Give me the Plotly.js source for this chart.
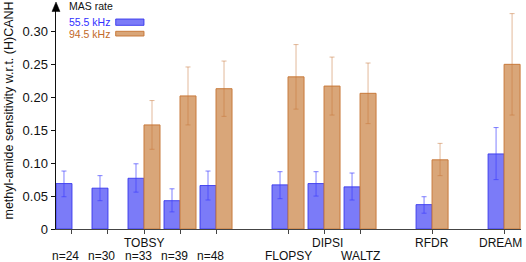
<!DOCTYPE html>
<html>
<head>
<meta charset="utf-8">
<script src="https://cdn.plot.ly/plotly-3.0.1.min.js"></script>
<style>html,body{margin:0;padding:0;background:#fff;}#chart{width:526px;height:262px;}</style>
</head>
<body>
<div id="chart"></div>
<script>
// ---- data ----
var positions = [0, 1, 2, 3, 4, 6, 7, 8, 10, 12];
var labelsRow1 = ['', '', 'TOBSY', '', '', '', 'DIPSI', '', 'RFDR', 'DREAM'];
var labelsRow2 = ['n=24', 'n=30', 'n=33', 'n=39', 'n=48', 'FLOPSY', '', 'WALTZ', '', ''];
var seriesNames = ['55.5 kHz', '94.5 kHz'];
var blue    = [0.069, 0.062, 0.077, 0.043, 0.066, 0.067, 0.069, 0.064, 0.037, 0.114];
var blueHi  = [0.088, 0.081, 0.099, 0.061, 0.088, 0.087, 0.087, 0.085, 0.049, 0.154];
var blueLo  = [0.049, 0.043, 0.056, 0.026, 0.044, 0.046, 0.050, 0.044, 0.024, 0.075];
var orange   = [null, null, 0.158, 0.202, 0.213, 0.231, 0.217, 0.206, 0.105, 0.250];
var orangeHi = [null, null, 0.195, 0.246, 0.255, 0.280, 0.261, 0.252, 0.130, 0.327];
var orangeLo = [null, null, 0.121, 0.158, 0.171, 0.182, 0.173, 0.160, 0.081, 0.173];
var yTickVals = [0, 0.05, 0.10, 0.15, 0.20, 0.25, 0.30];
var yTickText = ['0', '0.05', '0.10', '0.15', '0.20', '0.25', '0.30'];

function plus(v, hi) { return v.map(function (d, i) { return d == null ? null : hi[i] - d; }); }
function minus(v, lo) { return v.map(function (d, i) { return d == null ? null : d - lo[i]; }); }

var BLUE = '#7b7bf8', BLUE_EDGE = 'rgba(50,50,235,0.85)', BLUE_ERR = 'rgba(60,60,255,0.65)';
var ORG = '#d9a679', ORG_EDGE = '#c87a3c', ORG_ERR = 'rgba(200,118,55,0.5)';

var traces = [
  {
    type: 'bar', name: seriesNames[0], x: positions, y: blue,
    marker: {color: BLUE, line: {color: BLUE_EDGE, width: 1}},
    error_y: {type: 'data', symmetric: false, array: plus(blue, blueHi), arrayminus: minus(blue, blueLo),
              color: BLUE_ERR, thickness: 1, width: 2.5},
    showlegend: false, hoverinfo: 'skip'
  },
  {
    type: 'bar', name: seriesNames[1], x: positions, y: orange,
    marker: {color: ORG, line: {color: ORG_EDGE, width: 1}},
    error_y: {type: 'data', symmetric: false, array: plus(orange, orangeHi), arrayminus: minus(orange, orangeLo),
              color: ORG_ERR, thickness: 1, width: 2.5},
    showlegend: false, hoverinfo: 'skip'
  }
];

var FONT = 'Liberation Sans, Arial, Helvetica, sans-serif';
var annotations = [];
var shiftMap = {'DIPSI': 3, 'DREAM': -4};
positions.forEach(function (p, i) {
  if (labelsRow1[i]) {
    annotations.push({xref: 'x', yref: 'paper', x: p, y: 0, yanchor: 'middle', xanchor: 'center',
      yshift: -14, xshift: shiftMap[labelsRow1[i]] || 0, showarrow: false, text: labelsRow1[i],
      font: {family: FONT, size: 12, color: '#111'}});
  }
  if (labelsRow2[i]) {
    annotations.push({xref: 'x', yref: 'paper', x: p, y: 0, yanchor: 'middle', xanchor: 'center',
      yshift: -27, xshift: labelsRow2[i].indexOf('n=') === 0 ? -6 : 0, showarrow: false, text: labelsRow2[i],
      font: {family: FONT, size: 12, color: '#111'}});
  }
});
// y title
annotations.push({xref: 'paper', yref: 'paper', x: 0, y: 0.541, xshift: -47, xanchor: 'center', yanchor: 'middle',
  textangle: -90, showarrow: false, text: 'methyl-amide sensitivity w.r.t. (H)CANH',
  font: {family: FONT, size: 12.5, color: '#111'}});
// legend
annotations.push({xref: 'paper', yref: 'paper', x: 0, y: 1, xshift: 11, yshift: 4, xanchor: 'left', yanchor: 'middle',
  showarrow: false, text: 'MAS rate', font: {family: FONT, size: 10.5, color: '#111'}});
annotations.push({xref: 'paper', yref: 'paper', x: 0, y: 1, xshift: 11, yshift: -12.3, xanchor: 'left', yanchor: 'middle',
  showarrow: false, text: seriesNames[0], font: {family: FONT, size: 10.5, color: '#3030ff'}});
annotations.push({xref: 'paper', yref: 'paper', x: 0, y: 1, xshift: 11, yshift: -23.7, xanchor: 'left', yanchor: 'middle',
  showarrow: false, text: seriesNames[1], font: {family: FONT, size: 10.5, color: '#c2692a'}});

var shapes = [
  {type: 'rect', xref: 'paper', yref: 'paper', x0: 0.1284, x1: 0.1892, y0: 0.930, y1: 0.9589,
   fillcolor: BLUE, line: {color: BLUE_EDGE, width: 1}},
  {type: 'rect', xref: 'paper', yref: 'paper', x0: 0.1284, x1: 0.1892, y0: 0.8813, y1: 0.9027,
   fillcolor: ORG, line: {color: ORG_EDGE, width: 1}},
  {type: 'path', xref: 'paper', yref: 'paper', path: 'M -0.0086,0.993 L 0.0086,0.993 L 0,1.0365 Z',
   fillcolor: '#000', line: {color: '#000', width: 0.5}}
];

var layout = {
  width: 526, height: 262,
  margin: {l: 56, r: 5, t: 10, b: 33},
  paper_bgcolor: '#fff', plot_bgcolor: '#fff',
  barmode: 'group', bargap: 0.111, bargroupgap: 0,
  showlegend: false,
  xaxis: {range: [-0.444, 12.47], tickvals: positions, ticktext: positions.map(function () { return ''; }),
          ticks: 'outside', ticklen: 4, tickcolor: '#444', tickwidth: 1,
          showgrid: false, zeroline: false, showline: true, linecolor: '#444', linewidth: 1.2, fixedrange: true},
  yaxis: {range: [0, 0.3325], tickvals: yTickVals, ticktext: yTickText,
          ticks: 'outside', ticklen: 4, tickcolor: '#111', tickwidth: 1,
          tickfont: {family: FONT, size: 13, color: '#111'},
          showgrid: false, zeroline: false, showline: true, linecolor: '#111', linewidth: 1.5, fixedrange: true},
  annotations: annotations,
  shapes: shapes,
  font: {family: FONT}
};

Plotly.newPlot('chart', traces, layout, {displayModeBar: false, staticPlot: true});
</script>
</body>
</html>
